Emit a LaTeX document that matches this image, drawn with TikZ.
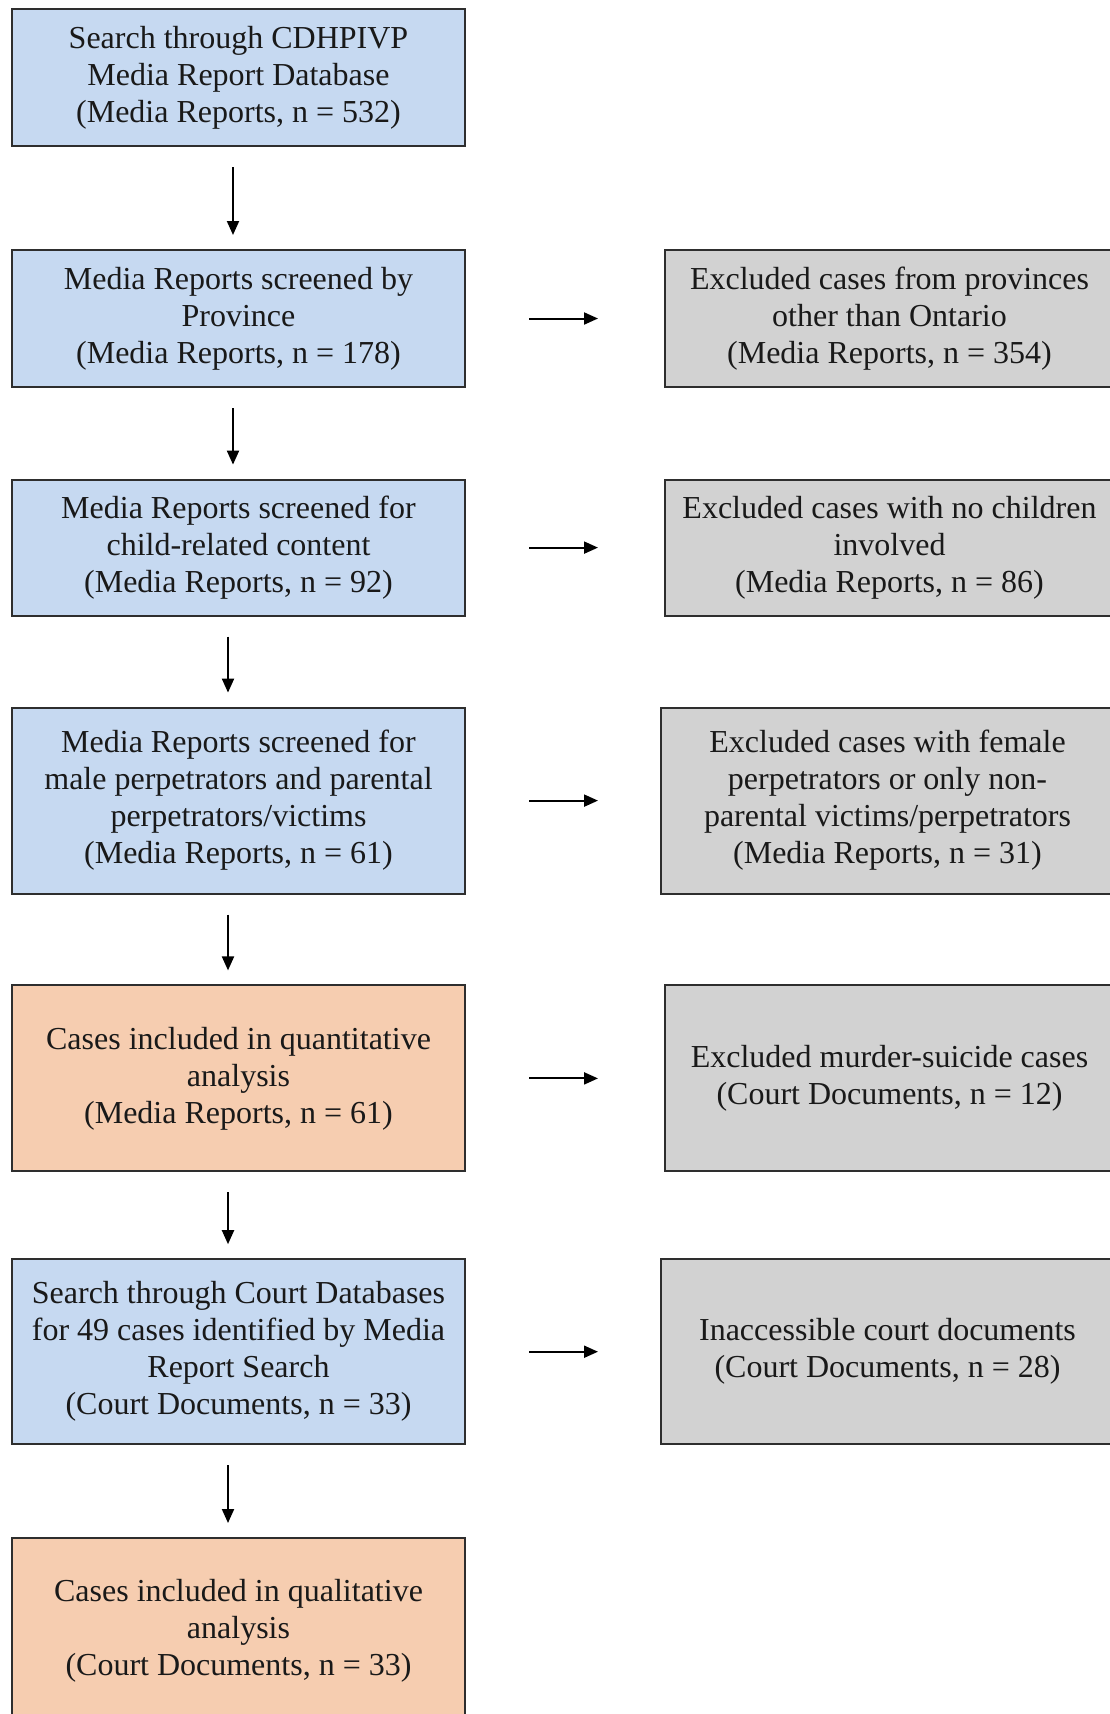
\documentclass[tikz,border=0pt]{standalone}
\usepackage{fontspec}
\setmainfont{Liberation Serif}
\usepackage{xcolor}
\usetikzlibrary{arrows.meta, positioning}

\definecolor{boxblue}{HTML}{C6D9F1}
\definecolor{boxorange}{HTML}{F6CDB0}
\definecolor{boxgray}{HTML}{D2D2D2}
\definecolor{boxline}{HTML}{2E2E2E}

\begin{document}
\begin{tikzpicture}[node distance=46pt,
    flowbox/.style={rectangle, draw=boxline, line width=1pt, align=center, text=black!90,
        font=\fontsize{16}{18.5}\selectfont, inner sep=0pt},
    leftbox/.style={flowbox, minimum width=226.5pt},
    rightbox/.style={flowbox, fill=boxgray, minimum width=224.5pt},
    flowarrow/.style={-{Triangle[length=7pt,width=6pt]}, line width=1pt, black},
    downarrow/.style={flowarrow, shorten <=10pt, shorten >=7pt},
    sidearrow/.style={flowarrow, shorten <=31.5pt, shorten >=33pt}]

    \useasboundingbox (0,0) rectangle (554.5pt,-857pt);

    \node (search) [leftbox, fill=boxblue, minimum height=68.5pt] at (119.25pt,-38.75pt) {Search through CDHPIVP\\ Media Report Database\\ (Media Reports, n = 532)};
    \node (province) [leftbox, fill=boxblue, minimum height=68.5pt, below=51pt of search] {Media Reports screened by\\ Province\\ (Media Reports, n = 178)};
    \node (child) [leftbox, fill=boxblue, minimum height=68pt, below=45.3pt of province] {Media Reports screened for\\ child-related content\\ (Media Reports, n = 92)};
    \node (male) [leftbox, fill=boxblue, minimum height=93pt, below=45pt of child] {Media Reports screened for\\ male perpetrators and parental\\ perpetrators/victims\\ (Media Reports, n = 61)};
    \node (quant) [leftbox, fill=boxorange, minimum height=93pt, below=44.9pt of male] {Cases included in quantitative\\ analysis\\ (Media Reports, n = 61)};
    \node (court) [leftbox, fill=boxblue, minimum height=92.5pt, below=42.9pt of quant] {Search through Court Databases\\ for 49 cases identified by Media\\ Report Search\\ (Court Documents, n = 33)};
    \node (qual) [leftbox, fill=boxorange, minimum height=93pt, below=45.9pt of court] {Cases included in qualitative\\ analysis\\ (Court Documents, n = 33)};

    \node (exprov) [rightbox, minimum height=68.5pt, right=99pt of province] {Excluded cases from provinces\\ other than Ontario\\ (Media Reports, n = 354)};
    \node (exchild) [rightbox, minimum height=68pt, right=99pt of child] {Excluded cases with no children\\ involved\\ (Media Reports, n = 86)};
    \node (exfemale) [rightbox, minimum height=93pt, right=97pt of male, minimum width=226.5pt] {Excluded cases with female\\ perpetrators or only non-\\ parental victims/perpetrators\\ (Media Reports, n = 31)};
    \node (exmurder) [rightbox, minimum height=93pt, right=99pt of quant] {Excluded murder-suicide cases\\ (Court Documents, n = 12)};
    \node (exaccess) [rightbox, minimum height=92.5pt, right=97pt of court, minimum width=226.5pt] {Inaccessible court documents\\ (Court Documents, n = 28)};

    \draw [downarrow] ([xshift=-2.75pt]search.south) -- ([xshift=-2.75pt]province.north);
    \draw [downarrow] ([xshift=-2.75pt]province.south) -- ([xshift=-2.75pt]child.north);
    \draw [downarrow] ([xshift=-5.25pt]child.south) -- ([xshift=-5.25pt]male.north);
    \draw [downarrow] ([xshift=-5.25pt]male.south) -- ([xshift=-5.25pt]quant.north);
    \draw [downarrow] ([xshift=-5.25pt]quant.south) -- ([xshift=-5.25pt]court.north);
    \draw [downarrow] ([xshift=-5.25pt]court.south) -- ([xshift=-5.25pt]qual.north);

    \draw [sidearrow] (province) -- (exprov);
    \draw [sidearrow] (child) -- (exchild);
    \draw [sidearrow, shorten >=31pt] (male) -- (exfemale);
    \draw [sidearrow] (quant) -- (exmurder);
    \draw [sidearrow, shorten >=31pt] (court) -- (exaccess);
\end{tikzpicture}
\end{document}
